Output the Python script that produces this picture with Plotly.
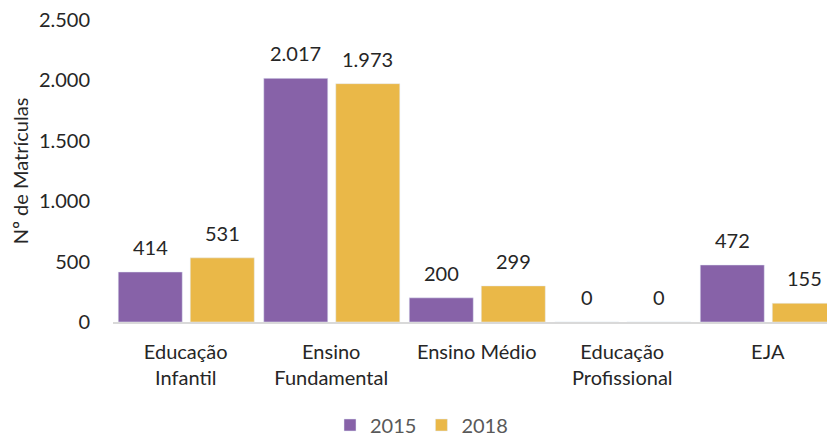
import plotly.graph_objects as go

categories = ["Educação<br>Infantil", "Ensino<br>Fundamental", "Ensino Médio", "Educação<br>Profissional", "EJA"]
values_2015 = [414, 2017, 200, 0, 472]
values_2018 = [531, 1973, 299, 0, 155]
series_names = ["2015", "2018"]
tick_vals = [0, 500, 1000, 1500, 2000, 2500]

FONT = "Lato, Open Sans, sans-serif"
COLORS = ["#8762A8", "#EAB848"]
BAR_W = 0.44
OFFSETS = [-0.464, 0.031]

fig = go.Figure()
for name, vals, col, off in zip(series_names, [values_2015, values_2018], COLORS, OFFSETS):
    fig.add_trace(go.Bar(name=name, x=categories, y=vals, marker_color=col,
                         width=BAR_W, offset=off, hoverinfo="y"))
    for i, v in enumerate(vals):
        fig.add_annotation(x=i + off + BAR_W / 2, y=v, text=f"{v:,}".replace(",", "."),
                           showarrow=False, yanchor="bottom", yshift=11,
                           font=dict(size=20, color="#262626", family=FONT))

fig.update_layout(
    width=827, height=429,
    margin=dict(l=105, r=0, t=12, b=115),
    plot_bgcolor="white", paper_bgcolor="white",
    separators=",.",
    barmode="overlay",
    font=dict(family=FONT, size=20, color="#262626"),
    legend=dict(orientation="h", xref="container", yref="container", x=0.5, y=0.028,
                xanchor="center", yanchor="middle", font=dict(size=20, color="#595959")),
    showlegend=True,
)
fig.update_xaxes(range=[-0.5, 4.462], showline=True, linecolor="#D9D9D9", linewidth=1.5,
                 ticks="outside", ticklen=11, tickcolor="white", tickfont=dict(size=20),
                 automargin=False, ticklabeloverflow="allow")
fig.update_yaxes(range=[0, 2500], tickvals=tick_vals, tickformat=",", showgrid=False, zeroline=False,
                 showline=False, ticks="outside", ticklen=18, tickcolor="white",
                 title=dict(text="Nº de Matrículas", font=dict(size=20), standoff=10),
                 tickfont=dict(size=20), automargin=False, ticklabeloverflow="allow")

fig.write_html("out.html")
